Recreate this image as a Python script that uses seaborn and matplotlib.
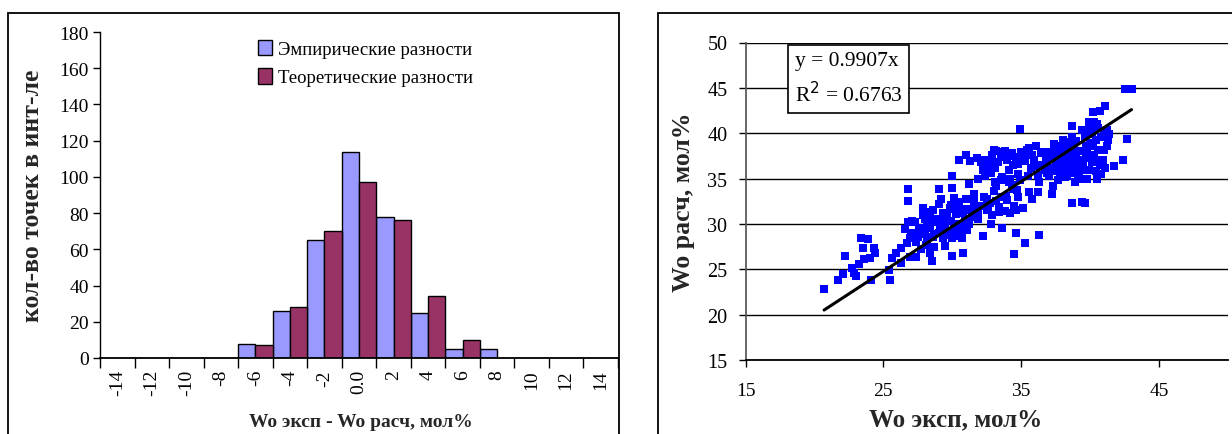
import numpy as np
import pandas as pd
import matplotlib
matplotlib.use("Agg")
import matplotlib.pyplot as plt
from matplotlib.patches import Rectangle
import seaborn as sns

# ---------------- data ----------------
categories = ["-14", "-12", "-10", "-8", "-6", "-4", "-2", "0.0", "2", "4", "6", "8", "10", "12", "14"]
empirical = [0, 0, 0, 0, 8, 26, 65, 114, 78, 25, 5, 5, 0, 0, 0]
theoretical = [0, 0, 0, 0, 7, 28, 70, 97, 76, 34, 10, 0, 0, 0, 0]
series_names = ["Эмпирические разности", "Теоретические разности"]

wo_exp = [
    20.7, 21.7, 22.1, 22.2, 22.7, 22.9, 23.0, 23.2, 23.4, 23.9, 23.5, 23.6, 24.0, 24.3, 24.4, 24.1,
    25.4, 25.5, 25.6, 25.9, 26.3, 26.3, 26.6, 26.8, 26.8, 26.8, 26.7, 26.9, 27.1, 27.3, 27.4, 27.5,
    27.7, 27.9, 28.0, 28.2, 28.2, 28.2, 28.4, 28.5, 28.7, 28.8, 29.0, 29.1, 29.2, 29.3, 29.3, 29.5,
    29.8, 30.0, 30.0, 30.0, 30.1, 30.2, 30.3, 30.5, 30.5, 30.7, 30.8, 30.8, 31.0, 31.0, 31.2, 31.3,
    31.4, 31.6, 31.7, 31.9, 31.9, 32.1, 32.2, 32.4, 32.5, 32.6, 32.7, 32.8, 33.0, 33.1, 33.2, 33.4,
    33.6, 33.7, 33.9, 34.1, 34.2, 34.3, 34.5, 34.5, 34.6, 34.7, 34.8, 34.9, 35.1, 35.2, 35.3, 35.5,
    35.6, 35.6, 35.8, 36.0, 36.1, 36.2, 36.3, 36.3, 36.5, 36.7, 36.9, 37.0, 37.2, 37.3, 37.4, 37.5,
    37.7, 37.9, 38.0, 38.2, 38.3, 38.5, 38.6, 38.7, 38.7, 38.9, 39.0, 39.2, 39.3, 39.4, 39.4, 39.6,
    39.7, 39.7, 39.9, 39.9, 40.1, 40.2, 40.2, 40.3, 40.4, 40.4, 40.6, 40.7, 40.8, 41.0, 41.1, 41.2,
    41.3, 41.4, 41.7, 42.4, 42.5, 42.7, 43.0,
    36.5, 36.8, 37.0, 37.1, 37.3, 37.5, 37.6, 37.8, 37.9, 38.0, 38.1, 38.3, 38.4, 38.5, 38.6, 38.8,
    38.9, 39.0, 39.1, 39.2, 39.3, 39.5, 39.6, 39.7, 39.8, 39.9, 40.0, 40.1, 40.2, 40.3, 40.4, 40.5,
    40.6, 40.7, 40.8, 40.9, 41.0, 41.2, 37.2, 36.9, 38.2, 39.4, 38.7, 40.0, 36.4, 35.9, 35.7, 36.2,
    37.7, 38.9, 39.1, 39.8, 41.1, 40.5,
    31.8, 32.3, 32.6, 32.9, 33.2, 33.3, 33.5, 33.8, 34.0, 34.3, 34.4, 34.6, 34.8, 35.0, 35.3, 35.4,
    35.8, 32.8, 33.6, 34.2, 34.9, 33.1, 32.2,
    27.6, 27.8, 28.0, 28.3, 28.4, 28.6, 28.9, 29.0, 29.2, 29.4, 29.6, 29.7, 29.9, 30.1, 30.3, 30.4,
    30.6, 30.9, 31.1, 27.3, 27.0, 26.9, 27.4, 28.1, 28.7, 29.5, 30.0, 30.7, 31.2, 31.5,
    31.3, 31.6, 31.9, 32.1, 32.3, 32.5, 32.7, 32.9, 33.0, 33.2, 33.4, 33.6, 33.8, 34.0, 34.2, 34.4,
    34.6, 34.8, 33.5, 34.1, 30.8, 30.5, 31.0, 30.2, 29.9, 29.6, 29.0, 28.6, 28.4, 27.9,
]
wo_calc = [
    22.8, 23.8, 24.5, 26.5, 25.1, 24.6, 24.3, 25.6, 28.4, 28.3, 27.4, 26.1, 26.2, 27.3, 26.8, 23.8,
    24.9, 23.8, 26.2, 26.8, 25.7, 27.4, 29.4, 33.8, 32.5, 30.2, 27.9, 26.3, 30.3, 29.0, 26.3, 28.6,
    27.2, 31.8, 30.5, 31.3, 29.8, 28.3, 26.8, 25.9, 28.9, 30.5, 33.9, 29.4, 32.7, 31.2, 28.5, 27.6,
    31.8, 35.3, 26.5, 34.0, 32.9, 29.0, 31.1, 37.1, 32.4, 29.0, 26.8, 29.8, 31.7, 37.6, 34.4, 36.9,
    30.9, 33.3, 32.0, 34.9, 30.5, 36.8, 28.7, 35.3, 32.7, 31.8, 37.1, 30.0, 38.1, 36.2, 34.2, 31.3,
    29.6, 37.9, 33.1, 35.9, 37.5, 34.3, 32.0, 26.7, 29.0, 33.7, 35.5, 40.5, 31.8, 37.5, 27.9, 35.3,
    33.5, 38.4, 32.7, 36.4, 38.6, 33.5, 28.8, 34.6, 37.9, 36.0, 36.8, 35.3, 33.3, 34.2, 38.8, 36.5,
    37.6, 36.1, 39.3, 37.2, 35.3, 38.2, 36.8, 40.8, 32.3, 35.6, 37.9, 34.9, 36.4, 40.3, 32.4, 32.3,
    38.6, 37.3, 41.2, 36.0, 39.9, 38.6, 42.3, 41.2, 37.1, 35.8, 40.6, 42.5, 35.5, 38.1, 43.0, 40.4,
    39.2, 39.9, 36.4, 37.0, 44.9, 39.4, 44.9,
    36.5, 37.4, 36.2, 37.9, 35.8, 38.2, 36.9, 35.6, 38.6, 36.3, 37.7, 36.6, 39.0, 35.8, 37.5, 38.3,
    36.2, 39.1, 37.0, 35.4, 38.0, 36.7, 39.6, 35.9, 37.8, 40.4, 38.9, 36.8, 40.8, 37.6, 39.3, 41.0,
    38.2, 36.5, 39.6, 37.0, 40.0, 38.6, 37.2, 35.6, 35.2, 36.3, 39.6, 37.3, 37.8, 37.0, 36.2, 35.4,
    34.8, 34.6, 35.0, 34.9, 36.2, 35.0,
    37.3, 37.0, 36.4, 37.6, 38.0, 36.8, 37.4, 38.0, 37.0, 37.8, 36.5, 37.4, 36.6, 37.9, 36.9, 38.2,
    37.6, 35.6, 35.2, 35.0, 34.8, 34.6, 35.9,
    29.6, 28.9, 29.2, 30.1, 29.5, 28.6, 30.2, 29.0, 29.7, 30.6, 29.2, 28.8, 30.3, 29.5, 30.0, 28.7,
    29.6, 30.3, 29.3, 30.2, 29.0, 28.5, 28.0, 27.7, 27.5, 30.0, 28.4, 28.5, 30.0, 30.8,
    31.5, 32.4, 31.2, 32.0, 33.0, 31.5, 32.3, 31.0, 33.6, 32.5, 31.9, 33.0, 31.4, 32.6, 31.2, 33.8,
    31.5, 33.0, 34.8, 34.6, 31.2, 31.9, 32.8, 31.6, 32.1, 31.0, 32.2, 31.5, 30.8, 31.0,
]
trend_slope = 0.9907
r_squared = 0.6763
x_ticks_right = [15, 25, 35, 45]
y_ticks_right = [15, 20, 25, 30, 35, 40, 45, 50]
y_ticks_left = [0, 20, 40, 60, 80, 100, 120, 140, 160, 180]

# ---------------- style ----------------
sns.set_theme(style="white")
plt.rcParams["font.family"] = ["Liberation Serif", "DejaVu Serif"]
plt.rcParams["axes.edgecolor"] = "black"
plt.rcParams["xtick.color"] = "black"
plt.rcParams["ytick.color"] = "black"
plt.rcParams["text.color"] = "black"

W, H = 1232, 435
fig = plt.figure(figsize=(W / 100, H / 100), dpi=100)


def fx(px):
    return px / W


def fy(py):
    return 1 - py / H


# panel frames
fig.patches.append(Rectangle((fx(8), fy(437)), fx(619) - fx(8), fy(14) - fy(437),
                             transform=fig.transFigure, fill=False, edgecolor="black", linewidth=1.3))
fig.patches.append(Rectangle((fx(658), fy(437)), fx(1240) - fx(658), fy(14) - fy(437),
                             transform=fig.transFigure, fill=False, edgecolor="black", linewidth=1.3))

# ---------------- left: histogram ----------------
ax1 = fig.add_axes([fx(100), fy(359), fx(618) - fx(100), fy(33) - fy(359)])
df = pd.DataFrame({
    "cat": categories * 2,
    "count": empirical + theoretical,
    "series": [series_names[0]] * len(categories) + [series_names[1]] * len(categories),
})
sns.barplot(data=df, x="cat", y="count", hue="series", order=categories, hue_order=series_names,
            palette=["#9999FF", "#993366"], width=1.0, saturation=1, edgecolor="black",
            linewidth=1.0, ax=ax1)
ax1.set_xlim(-0.5, len(categories) - 0.5)
ax1.set_ylim(0, 180)
ax1.set_yticks(y_ticks_left)
ax1.set_yticklabels([str(v) for v in y_ticks_left], fontsize=14)
ax1.set_xticks(range(len(categories)))
ax1.set_xticklabels(categories, rotation=90, fontsize=14)
ax1.tick_params(axis="x", which="major", length=0, pad=8)
ax1.set_xticks(np.arange(-0.5, len(categories), 1.0), minor=True)
ax1.tick_params(axis="x", which="minor", length=7, width=1, direction="out", bottom=True)
ax1.tick_params(axis="y", length=5, width=1, direction="out", left=True, pad=3)
for s in ["top", "right"]:
    ax1.spines[s].set_visible(False)
ax1.spines["left"].set_color("black")
ax1.spines["bottom"].set_color("black")
ax1.spines["bottom"].set_linewidth(1.3)
ax1.spines["left"].set_linewidth(1.0)
ax1.set_xlabel("Wo эксп - Wo расч, мол%", fontsize=14, fontweight="bold")
ax1.xaxis.set_label_coords(0.504, -0.17)
ax1.set_ylabel("кол-во точек в инт-ле", fontsize=18.5, fontweight="bold")
ax1.yaxis.set_label_coords(-0.108, 0.5)
leg = ax1.legend(loc="upper left", bbox_to_anchor=(0.29, 1.0), frameon=False, fontsize=13.5,
                 handlelength=0.75, handleheight=0.9, handletextpad=0.35, labelspacing=0.55,
                 borderaxespad=0)

# ---------------- right: scatter ----------------
ax2 = fig.add_axes([fx(745.5), fy(361), fx(1228) - fx(745.5), fy(43.5) - fy(361)])
sns.scatterplot(x=wo_exp, y=wo_calc, marker="s", color="#0000FF", s=34, linewidth=0, ax=ax2, zorder=3)
xmin, xmax = min(wo_exp), max(wo_exp)
ax2.plot([xmin, xmax], [trend_slope * xmin, trend_slope * xmax], color="black", linewidth=2.2, zorder=4)
ax2.set_xlim(15, 50)
ax2.set_ylim(15, 50)
ax2.set_xticks(x_ticks_right)
ax2.set_xticklabels([str(v) for v in x_ticks_right], fontsize=14)
ax2.set_yticks(y_ticks_right)
ax2.set_yticklabels([str(v) for v in y_ticks_right], fontsize=14.5)
ax2.grid(axis="y", color="black", linewidth=1.0)
ax2.grid(axis="x", visible=False)
ax2.set_axisbelow(True)
ax2.tick_params(axis="y", length=5, width=1, direction="out", left=True, pad=8)
ax2.tick_params(axis="x", length=5, width=1, direction="out", bottom=True, pad=11)
for s in ["top", "right"]:
    ax2.spines[s].set_visible(False)
ax2.spines["left"].set_color("#555555")
ax2.spines["bottom"].set_color("black")
ax2.spines["bottom"].set_linewidth(1.3)
ax2.set_xlabel("Wo эксп, мол%", fontsize=18, fontweight="bold")
ax2.xaxis.set_label_coords(0.436, -0.148)
ax2.set_ylabel("Wo расч, мол%", fontsize=18.5, fontweight="bold")
ax2.yaxis.set_label_coords(-0.105, 0.5)
ax2.text(0.102, 0.972, f"y = {trend_slope}x\nR$^2$ = {r_squared}", transform=ax2.transAxes,
         fontsize=15.5, va="top", ha="left", linespacing=1.55, zorder=6,
         bbox=dict(boxstyle="square,pad=0.3", facecolor="white", edgecolor="black", linewidth=1.2))

fig.savefig("out.png", dpi=100)
